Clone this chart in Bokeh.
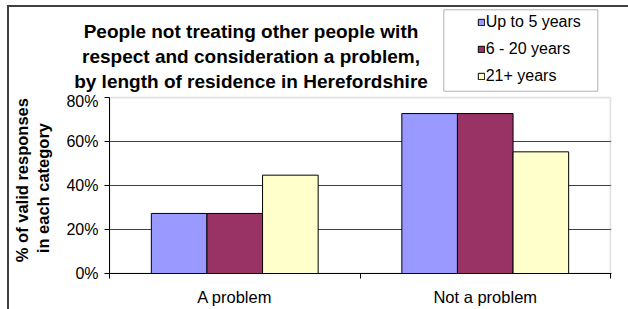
import math
from bokeh.plotting import figure
from bokeh.layouts import column
from bokeh.models import (Range1d, LinearAxis, FixedTicker, Title,
                          PrintfTickFormatter, Label, Legend, LegendItem, BoxAnnotation,
                          ColumnDataSource)
from bokeh.transform import dodge
from bokeh.embed import file_html
from bokeh.resources import INLINE

# ---- data ----
categories = ["A problem", "Not a problem"]
series = ["Up to 5 years", "6 - 20 years", "21+ years"]
up_to_5 = [27.3, 72.7]
six_to_20 = [27.3, 72.7]
over_21 = [44.7, 55.3]
colors = ["#9999FF", "#993366", "#FFFFCC"]
y_ticks = [0, 20, 40, 60, 80]
grid_ticks = [20, 40, 60]
y_max = 80
title_lines = ["People not treating other people with",
               "respect and consideration a problem,",
               "by length of residence in Herefordshire"]
ylabel_lines = ["% of valid responses", "in each category"]

FONT = "Liberation Sans"
W = 619
HEAD_H = 85
CHART_H = 217

n = len(categories)
centers = [i + 0.5 for i in range(n)]

# ================= header: title + legend =================
head = figure(x_range=Range1d(0, W), y_range=Range1d(0, HEAD_H), width=W, height=HEAD_H,
              output_backend="svg", toolbar_location=None,
              x_axis_location=None, y_axis_location=None,
              min_border_left=0, min_border_right=0, min_border_top=0, min_border_bottom=0)
head.frame_align = False
head.outline_line_color = None
head.background_fill_color = "white"
head.border_fill_color = "white"
head.xgrid.visible = False
head.ygrid.visible = False

for txt, yy in zip(title_lines, [61, 36, 11]):
    head.add_layout(Label(x=241.5, y=yy, x_units="screen", y_units="screen", text=txt,
                          text_align="center", text_baseline="alphabetic",
                          text_font=FONT, text_font_size="19px", text_font_style="bold",
                          text_color="black"))

# legend swatches: renderers carrying the bar styles, placed outside the visible range
swatches = [head.vbar(x=[-100], top=[0], width=1, fill_color=c, line_color="black",
                      line_width=1) for c in colors]
legend = Legend(items=[LegendItem(label=s, renderers=[r]) for s, r in zip(series, swatches)],
                location=(467.7, 6), border_line_color=None, background_fill_alpha=0,
                padding=0, margin=0, spacing=7, glyph_width=8, glyph_height=8,
                label_height=20, label_standoff=1, label_text_font=FONT,
                label_text_font_size="16px", label_text_color="black")
head.add_layout(legend)
head.add_layout(BoxAnnotation(left=434.3, right=588.3, top=82.7, bottom=1.3,
                              fill_color=None, fill_alpha=0, line_color="black",
                              line_width=1, level="overlay"))

# ================= chart =================
p = figure(x_range=Range1d(0, n * 502 / 501), y_range=Range1d(0, y_max * 177 / 176),
           width=W, height=CHART_H, output_backend="svg", toolbar_location=None,
           x_axis_location=None, y_axis_location="left",
           min_border_left=100, min_border_right=17, min_border_top=4, min_border_bottom=36)
p.frame_align = False
p.background_fill_color = "white"
p.border_fill_color = "white"
p.outline_line_color = None
p.xgrid.visible = False
p.ygrid.ticker = FixedTicker(ticks=grid_ticks)
p.ygrid.grid_line_color = "#404040"

# plot-area border (gray)
p.add_layout(BoxAnnotation(left=0, right=n, bottom=0, top=y_max, fill_color=None,
                           fill_alpha=0, line_color="#a0a0a0", line_width=2, level="underlay"))

# y axis
ya = p.yaxis[0]
ya.ticker = FixedTicker(ticks=y_ticks)
ya.bounds = (0, y_max)
ya.formatter = PrintfTickFormatter(format="%d%%")
ya.major_tick_in = 0
ya.major_tick_out = 5
ya.minor_tick_line_color = None
ya.axis_line_color = "black"
ya.major_tick_line_color = "black"
ya.major_label_text_font = FONT
ya.major_label_text_font_size = "16px"
ya.major_label_text_color = "black"
ya.major_label_standoff = 6

# y axis title (two lines), stacked outward from the axis
p.add_layout(Title(text=ylabel_lines[1], align="left", offset=20.3, vertical_align="bottom",
                   standoff=23.2, text_font=FONT, text_font_size="16.5px",
                   text_font_style="bold", text_color="black"), "left")
p.add_layout(Title(text=ylabel_lines[0], align="left", offset=11.3, vertical_align="bottom",
                   standoff=-20, text_font=FONT, text_font_size="16.5px",
                   text_font_style="bold", text_color="black"), "left")

# x axes: boundary ticks + category labels
bounds = list(range(n + 1))
tick_axis = LinearAxis(ticker=FixedTicker(ticks=bounds),
                       major_label_overrides={b: "" for b in bounds},
                       major_tick_in=0, major_tick_out=5, minor_tick_line_color=None,
                       axis_line_color="black", major_tick_line_color="black",
                       major_label_standoff=0, major_label_text_font_size="1px")
p.add_layout(tick_axis, "below")
cat_axis = LinearAxis(ticker=FixedTicker(ticks=centers),
                      major_label_overrides={c: t for c, t in zip(centers, categories)},
                      axis_line_color=None, major_tick_line_color=None,
                      minor_tick_line_color=None,
                      major_label_standoff=3, major_label_text_font=FONT,
                      major_label_text_font_size="16.5px", major_label_text_color="black")
p.add_layout(cat_axis, "below")

# bars
src = ColumnDataSource(dict(x=centers, up=up_to_5, mid=six_to_20, old=over_21))
w = 0.222
for field, off, color in zip(["up", "mid", "old"], [-w, 0, w], colors):
    p.vbar(x=dodge("x", off), top=field, width=w, source=src,
           fill_color=color, line_color="black", line_width=1)

layout = column(head, p, spacing=0)
layout.styles = {"margin-left": "7px", "margin-top": "5px",
                 "border-left": "2px solid #404040", "border-top": "2px solid #404040"}

open("out.html", "w").write(file_html(layout, INLINE))
